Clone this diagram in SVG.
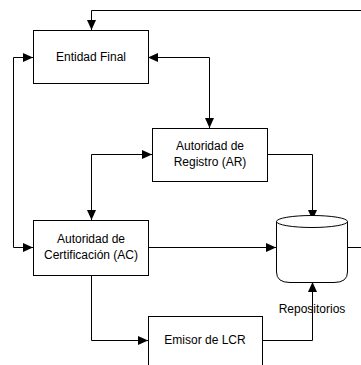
<svg xmlns="http://www.w3.org/2000/svg" width="361" height="365" viewBox="0 0 361 365">
<style>
.box{fill:#fff;stroke:#000;stroke-width:1}
.ln{fill:none;stroke:#000;stroke-width:1}
text{font-family:"Liberation Sans",Arial,sans-serif;font-size:12px;fill:#000;text-anchor:middle}
</style>
<defs>
<marker id="a" markerUnits="userSpaceOnUse" markerWidth="11" markerHeight="10" refX="10" refY="5" orient="auto-start-reverse">
<path d="M0,0.5 L10,5 L0,9.5 Z" fill="#000"/>
</marker>
</defs>
<rect width="361" height="365" fill="#fff"/>
<g id="connectors">
<path class="ln" d="M361,10.5 H91.5 V30" marker-end="url(#a)"/>
<path class="ln" d="M33,57.5 H13.5 V247.5 H33" marker-start="url(#a)" marker-end="url(#a)"/>
<path class="ln" d="M148,57.5 H209.5 V128" marker-start="url(#a)" marker-end="url(#a)"/>
<path class="ln" d="M152,154.5 H91.5 V220" marker-start="url(#a)" marker-end="url(#a)"/>
<path class="ln" d="M267,154.5 H312.5 V220" marker-end="url(#a)"/>
<path class="ln" d="M148,247.5 H276" marker-end="url(#a)"/>
<path class="ln" d="M347,247.5 H361"/>
<path class="ln" d="M91.5,275 V340.5 H148" marker-end="url(#a)"/>
<path class="ln" d="M262,340.5 H312.5 V282" marker-end="url(#a)"/>
</g>
<g id="entidad">
<rect class="box" x="33.5" y="30.5" width="115" height="53"/>
<text x="91" y="61">Entidad Final</text>
</g>
<g id="ar">
<rect class="box" x="152.5" y="128.5" width="115" height="53"/>
<text x="210" y="150">Autoridad de</text>
<text x="210" y="166">Registro (AR)</text>
</g>
<g id="ac">
<rect class="box" x="33.5" y="220.5" width="115" height="55"/>
<text x="91" y="243">Autoridad de</text>
<text x="91" y="259">Certificación (AC)</text>
</g>
<g id="repositorios">
<path class="box" d="M276.5,221.5 V272 Q276.5,282.5 290,282.5 H334 Q347.5,282.5 347.5,272 V221.5"/>
<ellipse class="box" cx="312" cy="221.5" rx="35.5" ry="6"/>
<text x="312" y="313">Repositorios</text>
</g>
<g id="emisor">
<rect class="box" x="148.5" y="316.5" width="114" height="60"/>
<text x="205" y="344">Emisor de LCR</text>
</g>
</svg>
